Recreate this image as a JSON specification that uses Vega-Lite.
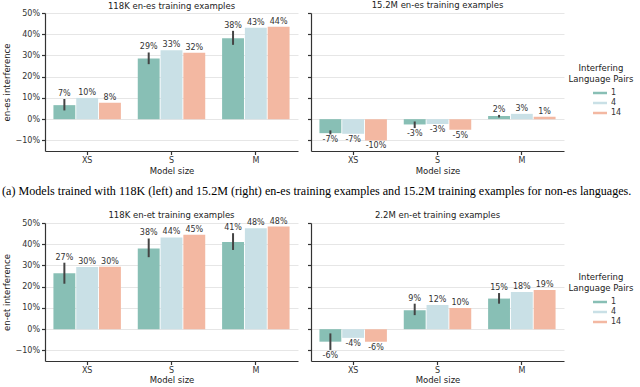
{
  "$schema": "https://vega.github.io/schema/vega-lite/v6.json",
  "padding": {"left": 2, "top": 0, "right": 0, "bottom": 0},
  "background": "white",
  "datasets": {
    "d": [
      {"p": "a", "size": "XS", "pairs": "1", "v": 0.066, "lo": 0.041, "hi": 0.095, "label": "7%"},
      {"p": "a", "size": "XS", "pairs": "4", "v": 0.100, "label": "10%"},
      {"p": "a", "size": "XS", "pairs": "14", "v": 0.077, "label": "8%"},
      {"p": "a", "size": "S", "pairs": "1", "v": 0.286, "lo": 0.259, "hi": 0.314, "label": "29%"},
      {"p": "a", "size": "S", "pairs": "4", "v": 0.325, "label": "33%"},
      {"p": "a", "size": "S", "pairs": "14", "v": 0.313, "label": "32%"},
      {"p": "a", "size": "M", "pairs": "1", "v": 0.381, "lo": 0.350, "hi": 0.416, "label": "38%"},
      {"p": "a", "size": "M", "pairs": "4", "v": 0.430, "label": "43%"},
      {"p": "a", "size": "M", "pairs": "14", "v": 0.435, "label": "44%"},
      {"p": "b", "size": "XS", "pairs": "1", "v": -0.066, "lo": -0.072, "hi": -0.053, "label": "-7%"},
      {"p": "b", "size": "XS", "pairs": "4", "v": -0.069, "label": "-7%"},
      {"p": "b", "size": "XS", "pairs": "14", "v": -0.100, "label": "-10%"},
      {"p": "b", "size": "S", "pairs": "1", "v": -0.025, "lo": -0.042, "hi": -0.011, "label": "-3%"},
      {"p": "b", "size": "S", "pairs": "4", "v": -0.023, "label": "-3%"},
      {"p": "b", "size": "S", "pairs": "14", "v": -0.050, "label": "-5%"},
      {"p": "b", "size": "M", "pairs": "1", "v": 0.015, "lo": 0.008, "hi": 0.020, "label": "2%"},
      {"p": "b", "size": "M", "pairs": "4", "v": 0.025, "label": "3%"},
      {"p": "b", "size": "M", "pairs": "14", "v": 0.011, "label": "1%"},
      {"p": "c", "size": "XS", "pairs": "1", "v": 0.263, "lo": 0.214, "hi": 0.313, "label": "27%"},
      {"p": "c", "size": "XS", "pairs": "4", "v": 0.293, "label": "30%"},
      {"p": "c", "size": "XS", "pairs": "14", "v": 0.294, "label": "30%"},
      {"p": "c", "size": "S", "pairs": "1", "v": 0.380, "lo": 0.339, "hi": 0.427, "label": "38%"},
      {"p": "c", "size": "S", "pairs": "4", "v": 0.432, "label": "44%"},
      {"p": "c", "size": "S", "pairs": "14", "v": 0.445, "label": "45%"},
      {"p": "c", "size": "M", "pairs": "1", "v": 0.410, "lo": 0.373, "hi": 0.452, "label": "41%"},
      {"p": "c", "size": "M", "pairs": "4", "v": 0.475, "label": "48%"},
      {"p": "c", "size": "M", "pairs": "14", "v": 0.483, "label": "48%"},
      {"p": "d", "size": "XS", "pairs": "1", "v": -0.059, "lo": -0.098, "hi": -0.020, "label": "-6%"},
      {"p": "d", "size": "XS", "pairs": "4", "v": -0.041, "label": "-4%"},
      {"p": "d", "size": "XS", "pairs": "14", "v": -0.059, "label": "-6%"},
      {"p": "d", "size": "S", "pairs": "1", "v": 0.089, "lo": 0.066, "hi": 0.120, "label": "9%"},
      {"p": "d", "size": "S", "pairs": "4", "v": 0.114, "label": "12%"},
      {"p": "d", "size": "S", "pairs": "14", "v": 0.100, "label": "10%"},
      {"p": "d", "size": "M", "pairs": "1", "v": 0.144, "lo": 0.120, "hi": 0.170, "label": "15%"},
      {"p": "d", "size": "M", "pairs": "4", "v": 0.175, "label": "18%"},
      {"p": "d", "size": "M", "pairs": "14", "v": 0.184, "label": "19%"}
    ]
  },
  "data": {"name": "d"},
  "config": {
    "view": {"stroke": null},
    "font": "DejaVu Sans",
    "title": {"font": "DejaVu Sans", "fontSize": 8.5, "fontWeight": "normal", "color": "#222", "offset": -1},
    "axis": {
      "domainColor": "#333", "domainWidth": 1.2, "tickColor": "#333", "tickWidth": 1.2, "tickSize": 3.5,
      "labelColor": "#333", "titleColor": "#222", "labelFont": "DejaVu Sans", "titleFont": "DejaVu Sans",
      "labelFontSize": 8, "titleFontSize": 8.5, "titleFontWeight": "normal", "gridColor": "#e6e6e6", "gridWidth": 1,
      "labelPadding": 2, "labelOverlap": false
    },
    "legend": {
      "labelFont": "DejaVu Sans", "titleFont": "DejaVu Sans", "labelFontSize": 8, "titleFontSize": 8.5,
      "titleFontWeight": "normal", "labelColor": "#333", "titleColor": "#222"
    },
    "text": {"font": "DejaVu Sans", "fontSize": 8, "color": "#333"}
  },
  "resolve": {"scale": {"color": "independent"}, "legend": {"color": "independent"}},
  "spacing": 12,
  "vconcat": [
    {
      "title": {"text": "(a) Models trained with 118K (left) and 15.2M (right) en-es training examples and 15.2M training examples for non-es languages.", "orient": "bottom", "anchor": "start", "frame": "bounds", "font": "Liberation Serif", "fontSize": 12.1, "color": "#000", "offset": 10},
      "spacing": 8,
      "hconcat": [
        {
          "title": {"text": "118K en-es training examples", "offset": -1},
          "width": 253, "height": 138,
          "transform": [{"filter": "datum.p === 'a'"}, {"calculate": "datum.v >= 0 ? (isValid(datum.hi) ? max(datum.v, datum.hi) : datum.v) : (isValid(datum.lo) ? min(datum.v, datum.lo) : datum.v)", "as": "ty"}],
          "encoding": {
            "x": {"field": "size", "type": "nominal", "sort": ["XS", "S", "M"], "scale": {"paddingInner": 0.2, "paddingOuter": 0.1}, "axis": {"title": "Model size", "labelAngle": 0, "titlePadding": 2}},
            "xOffset": {"field": "pairs", "type": "nominal", "sort": ["1", "4", "14"], "scale": {"paddingInner": 0.04}}
          },
          "layer": [
            {"mark": {"type": "bar"}, "encoding": {
              "y": {"field": "v", "type": "quantitative", "scale": {"domain": [-0.15, 0.5], "nice": false}, "axis": {"values": [-0.1, 0, 0.1, 0.2, 0.3, 0.4, 0.5], "tickCount": 20, "format": ".0%", "title": "en-es interference", "grid": true, "titlePadding": 4, "labelOverlap": false}},
              "color": {"field": "pairs", "type": "nominal", "scale": {"domain": ["1", "4", "14"], "range": ["#88bfb5", "#c9e0e6", "#f3b8a2"]}, "legend": {"title": ["Interfering", "Language Pairs"], "orient": "none", "legendX": 524, "legendY": 51, "titleAnchor": "middle", "titleAlign": "center", "symbolType": "M-1.4,-0.25H1.4V0.25H-1.4Z", "symbolSize": 100, "symbolStrokeWidth": 0, "rowPadding": 1, "labelOffset": 6, "symbolOffset": 15, "padding": 0}}
            }},
            {"transform": [{"filter": "isValid(datum.lo)"}], "mark": {"type": "rule", "color": "#444", "strokeWidth": 2}, "encoding": {"y": {"field": "lo", "type": "quantitative"}, "y2": {"field": "hi"}}},
            {"transform": [{"filter": "datum.v >= 0"}], "mark": {"type": "text", "baseline": "bottom", "dy": -1}, "encoding": {"y": {"field": "ty", "type": "quantitative"}, "text": {"field": "label"}}},
            {"transform": [{"filter": "datum.v < 0"}], "mark": {"type": "text", "baseline": "top", "dy": 2}, "encoding": {"y": {"field": "ty", "type": "quantitative"}, "text": {"field": "label"}}}
          ]
        },
        {
          "title": {"text": "15.2M en-es training examples", "offset": 3},
          "width": 253, "height": 138,
          "transform": [{"filter": "datum.p === 'b'"}, {"calculate": "datum.v >= 0 ? (isValid(datum.hi) ? max(datum.v, datum.hi) : datum.v) : (isValid(datum.lo) ? min(datum.v, datum.lo) : datum.v)", "as": "ty"}],
          "encoding": {
            "x": {"field": "size", "type": "nominal", "sort": ["XS", "S", "M"], "scale": {"paddingInner": 0.2, "paddingOuter": 0.1}, "axis": {"title": "Model size", "labelAngle": 0, "titlePadding": 2}},
            "xOffset": {"field": "pairs", "type": "nominal", "sort": ["1", "4", "14"], "scale": {"paddingInner": 0.04}}
          },
          "layer": [
            {"mark": {"type": "bar"}, "encoding": {
              "y": {"field": "v", "type": "quantitative", "scale": {"domain": [-0.15, 0.5], "nice": false}, "axis": {"values": [-0.1, 0, 0.1, 0.2, 0.3, 0.4, 0.5], "tickCount": 20, "labels": false, "title": null, "grid": true}},
              "color": {"field": "pairs", "type": "nominal", "scale": {"domain": ["1", "4", "14"], "range": ["#88bfb5", "#c9e0e6", "#f3b8a2"]}, "legend": {"title": ["Interfering", "Language Pairs"], "orient": "none", "legendX": 524, "legendY": 51, "titleAnchor": "middle", "titleAlign": "center", "symbolType": "M-1.4,-0.25H1.4V0.25H-1.4Z", "symbolSize": 100, "symbolStrokeWidth": 0, "rowPadding": 1, "labelOffset": 6, "symbolOffset": 15, "padding": 0}}
            }},
            {"transform": [{"filter": "isValid(datum.lo)"}], "mark": {"type": "rule", "color": "#444", "strokeWidth": 2}, "encoding": {"y": {"field": "lo", "type": "quantitative"}, "y2": {"field": "hi"}}},
            {"transform": [{"filter": "datum.v >= 0"}], "mark": {"type": "text", "baseline": "bottom", "dy": -1}, "encoding": {"y": {"field": "ty", "type": "quantitative"}, "text": {"field": "label"}}},
            {"transform": [{"filter": "datum.v < 0"}], "mark": {"type": "text", "baseline": "top", "dy": 2}, "encoding": {"y": {"field": "ty", "type": "quantitative"}, "text": {"field": "label"}}}
          ]
        }
      ]
    },
    {
      "spacing": 8,
      "hconcat": [
        {
          "title": {"text": "118K en-et training examples", "offset": -2},
          "width": 253, "height": 138,
          "transform": [{"filter": "datum.p === 'c'"}, {"calculate": "datum.v >= 0 ? (isValid(datum.hi) ? max(datum.v, datum.hi) : datum.v) : (isValid(datum.lo) ? min(datum.v, datum.lo) : datum.v)", "as": "ty"}],
          "encoding": {
            "x": {"field": "size", "type": "nominal", "sort": ["XS", "S", "M"], "scale": {"paddingInner": 0.2, "paddingOuter": 0.1}, "axis": {"title": "Model size", "labelAngle": 0, "titlePadding": 1}},
            "xOffset": {"field": "pairs", "type": "nominal", "sort": ["1", "4", "14"], "scale": {"paddingInner": 0.04}}
          },
          "layer": [
            {"mark": {"type": "bar"}, "encoding": {
              "y": {"field": "v", "type": "quantitative", "scale": {"domain": [-0.15, 0.5], "nice": false}, "axis": {"values": [-0.1, 0, 0.1, 0.2, 0.3, 0.4, 0.5], "tickCount": 20, "format": ".0%", "title": "en-et interference", "grid": true, "titlePadding": 4, "labelOverlap": false}},
              "color": {"field": "pairs", "type": "nominal", "scale": {"domain": ["1", "4", "14"], "range": ["#88bfb5", "#c9e0e6", "#f3b8a2"]}, "legend": {"title": ["Interfering", "Language Pairs"], "orient": "none", "legendX": 524, "legendY": 50, "titleAnchor": "middle", "titleAlign": "center", "symbolType": "M-1.4,-0.25H1.4V0.25H-1.4Z", "symbolSize": 100, "symbolStrokeWidth": 0, "rowPadding": 1, "labelOffset": 6, "symbolOffset": 15, "padding": 0}}
            }},
            {"transform": [{"filter": "isValid(datum.lo)"}], "mark": {"type": "rule", "color": "#444", "strokeWidth": 2}, "encoding": {"y": {"field": "lo", "type": "quantitative"}, "y2": {"field": "hi"}}},
            {"transform": [{"filter": "datum.v >= 0"}], "mark": {"type": "text", "baseline": "bottom", "dy": -1}, "encoding": {"y": {"field": "ty", "type": "quantitative"}, "text": {"field": "label"}}},
            {"transform": [{"filter": "datum.v < 0"}], "mark": {"type": "text", "baseline": "top", "dy": 2}, "encoding": {"y": {"field": "ty", "type": "quantitative"}, "text": {"field": "label"}}}
          ]
        },
        {
          "title": {"text": "2.2M en-et training examples", "offset": 3},
          "width": 253, "height": 138,
          "transform": [{"filter": "datum.p === 'd'"}, {"calculate": "datum.v >= 0 ? (isValid(datum.hi) ? max(datum.v, datum.hi) : datum.v) : (isValid(datum.lo) ? min(datum.v, datum.lo) : datum.v)", "as": "ty"}],
          "encoding": {
            "x": {"field": "size", "type": "nominal", "sort": ["XS", "S", "M"], "scale": {"paddingInner": 0.2, "paddingOuter": 0.1}, "axis": {"title": "Model size", "labelAngle": 0, "titlePadding": 1}},
            "xOffset": {"field": "pairs", "type": "nominal", "sort": ["1", "4", "14"], "scale": {"paddingInner": 0.04}}
          },
          "layer": [
            {"mark": {"type": "bar"}, "encoding": {
              "y": {"field": "v", "type": "quantitative", "scale": {"domain": [-0.15, 0.5], "nice": false}, "axis": {"values": [-0.1, 0, 0.1, 0.2, 0.3, 0.4, 0.5], "tickCount": 20, "labels": false, "title": null, "grid": true}},
              "color": {"field": "pairs", "type": "nominal", "scale": {"domain": ["1", "4", "14"], "range": ["#88bfb5", "#c9e0e6", "#f3b8a2"]}, "legend": {"title": ["Interfering", "Language Pairs"], "orient": "none", "legendX": 524, "legendY": 50, "titleAnchor": "middle", "titleAlign": "center", "symbolType": "M-1.4,-0.25H1.4V0.25H-1.4Z", "symbolSize": 100, "symbolStrokeWidth": 0, "rowPadding": 1, "labelOffset": 6, "symbolOffset": 15, "padding": 0}}
            }},
            {"transform": [{"filter": "isValid(datum.lo)"}], "mark": {"type": "rule", "color": "#444", "strokeWidth": 2}, "encoding": {"y": {"field": "lo", "type": "quantitative"}, "y2": {"field": "hi"}}},
            {"transform": [{"filter": "datum.v >= 0"}], "mark": {"type": "text", "baseline": "bottom", "dy": -1}, "encoding": {"y": {"field": "ty", "type": "quantitative"}, "text": {"field": "label"}}},
            {"transform": [{"filter": "datum.v < 0"}], "mark": {"type": "text", "baseline": "top", "dy": 2}, "encoding": {"y": {"field": "ty", "type": "quantitative"}, "text": {"field": "label"}}}
          ]
        }
      ]
    }
  ]
}
